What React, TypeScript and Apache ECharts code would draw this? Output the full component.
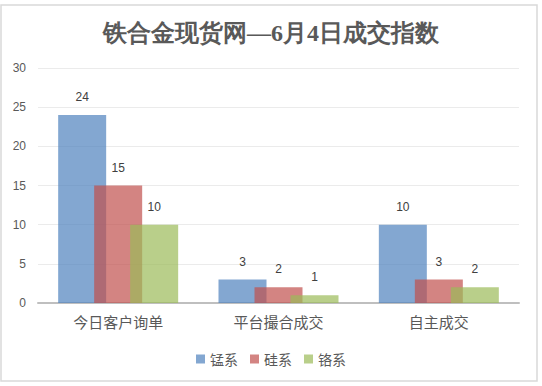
import React, { useEffect, useRef } from "react";
import * as echarts from "echarts";

const categories = ["今日客户询单", "平台撮合成交", "自主成交"];
const seriesNames = ["锰系", "硅系", "铬系"];
const mnValues = [24, 3, 10];
const siValues = [15, 2, 3];
const crValues = [10, 1, 2];
const colors = ["rgba(79,129,189,0.7)", "rgba(192,80,77,0.7)", "rgba(155,187,89,0.7)"];

export default function App() {
  const ref = useRef<HTMLDivElement>(null);
  useEffect(() => {
    if (!ref.current) return;
    const chart = echarts.init(ref.current, undefined, { renderer: "svg" });
    const data = [mnValues, siValues, crValues];
    chart.setOption({
      animation: false,
      backgroundColor: "#ffffff",
      title: {
        text: "铁合金现货网—6月4日成交指数",
        left: "center",
        top: 16,
        textStyle: {
          fontFamily: "serif",
          fontWeight: "bold",
          fontSize: 24,
          color: "#595959",
        },
      },
      graphic: [
        {
          type: "rect",
          shape: { x: 1, y: 5, width: 536, height: 376 },
          style: { fill: "none", stroke: "#d9d9d9", lineWidth: 1.5 },
          silent: true,
        },
      ],
      legend: {
        data: seriesNames,
        top: 347,
        left: "center",
        itemWidth: 9,
        itemHeight: 9,
        itemGap: 12,
        icon: "rect",
        textStyle: { fontSize: 14, color: "#595959", fontFamily: "Noto Sans CJK SC" },
      },
      grid: { left: 38, right: 23, top: 68, bottom: 83 },
      xAxis: {
        type: "category",
        data: categories,
        axisTick: { show: false },
        axisLine: { lineStyle: { color: "#bfbfbf", width: 2 } },
        axisLabel: { fontSize: 15, color: "#595959", margin: 11, fontFamily: "Noto Sans CJK SC" },
      },
      yAxis: {
        type: "value",
        min: 0,
        max: 30,
        interval: 5,
        axisLine: { show: false },
        axisTick: { show: false },
        axisLabel: { fontSize: 12, color: "#595959", margin: 12 },
        splitLine: { lineStyle: { color: "#ebebeb", width: 1 } },
      },
      series: seriesNames.map((name, i) => ({
        name,
        type: "bar",
        data: data[i],
        barWidth: 48,
        barGap: "-25%",
        itemStyle: { color: colors[i] },
        label: {
          show: true,
          position: "top",
          distance: 12,
          fontSize: 12,
          color: "#404040",
        },
      })),
    });
    return () => chart.dispose();
  }, []);
  return (
    <div
      ref={ref}
      style={{ position: "absolute", left: 0, top: 0, width: 542, height: 386 }}
    />
  );
}
